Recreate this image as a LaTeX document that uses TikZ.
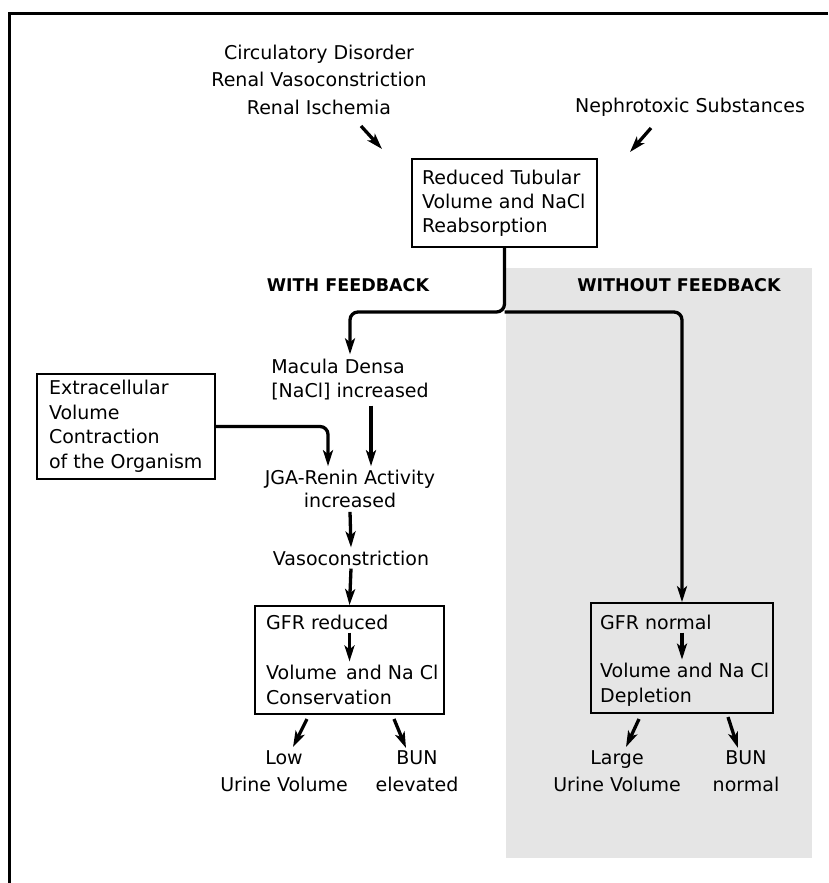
\documentclass[tikz,border=0pt]{standalone}
\usepackage{fontspec}
\setmainfont{DejaVu Sans}
\usetikzlibrary{arrows.meta}
\begin{document}
\begin{tikzpicture}[x=1pt,y=-1pt,
  txt/.style={font=\fontsize{19}{27.5}\selectfont, inner sep=3pt, align=center},
  ltxt/.style={font=\fontsize{19}{24}\selectfont, inner sep=3pt, align=left},
  bx/.style={draw, line width=1.8pt, inner sep=0pt},
  hd/.style={font=\fontsize{17.5}{20}\selectfont\bfseries, inner sep=0pt},
  arr/.style={line width=3.3pt, -{Stealth[length=16pt,width=10pt,inset=4pt]}},
  frameline/.style={line width=3pt},
  shade/.style={fill=black!10}
]
\useasboundingbox (0,0) rectangle (828,883);
% shaded area and frame
\fill[shade] (506,268) rectangle (812,858);
\draw[frameline] (828,14) -- (9,14) -- (9,883);

% causes
\node[txt] (causes) at (319,79.5) {Circulatory Disorder\\Renal Vasoconstriction\\Renal Ischemia};
\node[txt] (neph) at (690,107) {Nephrotoxic Substances};
\coordinate (c1a) at (361,126); \coordinate (c1b) at (382,149);
\coordinate (c2a) at (651,128); \coordinate (c2b) at (630,152);
\draw[arr] (c1a) -- (c1b);
\draw[arr] (c2a) -- (c2b);

% top box
\node[bx, font=\fontsize{19}{24}\selectfont, text width=165pt, inner xsep=10pt, align=left, minimum height=88pt] (rtv) at (504.5,203) {Reduced Tubular\\Volume and NaCl\\Reabsorption};

% headings
\node[hd] (wf) at (348,285) {WITH FEEDBACK};
\node[hd] (wof) at (679,285) {WITHOUT FEEDBACK};

% left chain
\node[ltxt, inner sep=5pt] (mac) at (350,380) {Macula Densa\\{[}NaCl{]} increased};
\node[bx, font=\fontsize{19}{24.5}\selectfont, text width=166pt, inner xsep=6pt, align=flush left, minimum height=105pt] (ext) at (126,426.5) {\hspace*{6pt}Extracellular\\\hspace*{6pt}Volume\\\hspace*{6pt}Contraction\\\hspace*{6pt}of the Organism};
\node[txt, font=\fontsize{19}{22.5}\selectfont, inner sep=4pt] (jga) at (350,489) {JGA-Renin Activity\\increased};
\node[txt] (vaso) at (351,558) {Vasoconstriction};

% left result box
\node[bx, minimum width=189pt, minimum height=108pt] (lbox) at (349.5,660) {};
\node[ltxt, anchor=west, inner xsep=0pt] (gfrr) at (266,622) {GFR reduced};
\node[ltxt, anchor=west, inner xsep=0pt, font=\fontsize{19}{25}\selectfont] (volc) at (266,684.5) {Volume\, and Na Cl\\Conservation};

% right result box
\node[bx, minimum width=182pt, minimum height=110pt] (rbox) at (682,658) {};
\node[ltxt, anchor=west, inner xsep=0pt] (gfrn) at (600,622) {GFR normal};
\node[ltxt, anchor=west, inner xsep=0pt, font=\fontsize{19}{25}\selectfont] (vold) at (600,684.5) {Volume and Na Cl\\Depletion};

% outcomes
\node[txt, font=\fontsize{19}{27}\selectfont] (low) at (284,771) {Low\\Urine Volume};
\node[txt, font=\fontsize{19}{27}\selectfont] (bune) at (417,771) {BUN\\elevated};
\node[txt, font=\fontsize{19}{27}\selectfont] (large) at (617,771) {Large\\Urine Volume};
\node[txt, font=\fontsize{19}{27}\selectfont] (bunn) at (746,771) {BUN\\normal};

% branching
\coordinate (br) at (504.5,312);
\draw[arr, rounded corners=8pt] (rtv.south) -- (br) -| (mac.north);
\draw[arr, rounded corners=8pt] (br) -| (rbox.north);

% left chain arrows
\draw[arr] ([xshift=21pt]mac.south) -- ([xshift=21pt]jga.north);
\draw[arr, rounded corners=8pt] (ext.east) -| ([xshift=-22pt]jga.north);
\draw[arr] (jga.south) -- (vaso.north);
\draw[arr] (vaso.south) -- (lbox.north);
\draw[arr] (gfrr.south -| lbox.north) -- (volc.north -| lbox.north);
\draw[arr] (gfrn.south -| rbox.north) -- (vold.north -| rbox.north);

% outcome arrows
\coordinate (l1a) at (307,719); \coordinate (l1b) at (293,747);
\coordinate (l2a) at (394,719); \coordinate (l2b) at (406,748);
\coordinate (r1a) at (639,719); \coordinate (r1b) at (626,747);
\coordinate (r2a) at (728,717); \coordinate (r2b) at (738,748);
\draw[arr] (l1a) -- (l1b);
\draw[arr] (l2a) -- (l2b);
\draw[arr] (r1a) -- (r1b);
\draw[arr] (r2a) -- (r2b);
\end{tikzpicture}
\end{document}
